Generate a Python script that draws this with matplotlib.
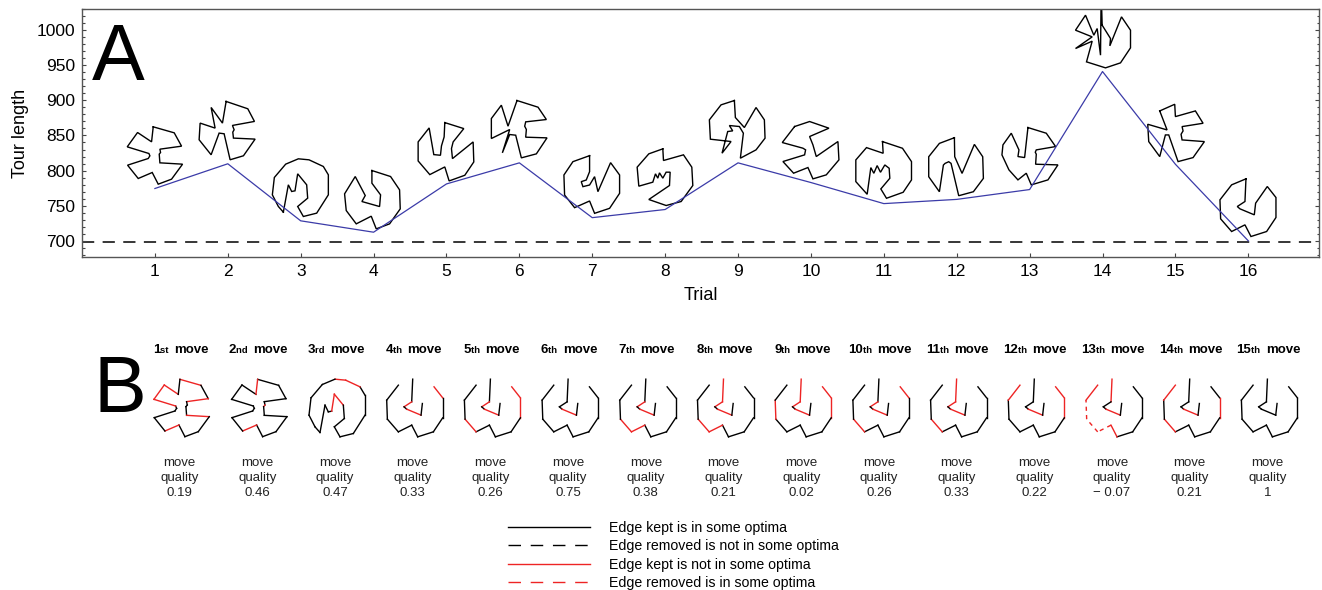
import numpy as np
import matplotlib
matplotlib.use("Agg")
import matplotlib.pyplot as plt
from matplotlib import transforms as mtrans
from matplotlib.lines import Line2D
from matplotlib.ticker import MultipleLocator, NullLocator
from matplotlib.offsetbox import TextArea, HPacker, AnnotationBbox

plt.rcParams['font.family'] = ['Liberation Sans', 'DejaVu Sans']

# ---------------- data ----------------
trials = list(range(1, 17))
tour_length = [774.5, 809.7, 728.5, 712.3, 781, 811, 733, 744.6, 811, 783,
               753, 759, 773, 941, 809, 700]
optimum = 699

move_numbers = list(range(1, 16))
move_suffix = ['st', 'nd', 'rd'] + ['th'] * 12
move_quality = [0.19, 0.46, 0.47, 0.33, 0.26, 0.75, 0.38, 0.21, 0.02, 0.26,
                0.33, 0.22, -0.07, 0.21, 1]

legend_labels = ["Edge kept is in some optima",
                 "Edge removed is not in some optima",
                 "Edge kept is not in some optima",
                 "Edge removed is in some optima"]

# tour drawings (traced shapes, 3x pixel units) and their anchor point
tour_1 = [(115,95),(178,113),(200,153),(135,162),(137,172),(133,177),(135,203),(203,207),(170,252),(130,267),(112,232),(70,250),(38,210),(100,190),(105,182),(102,175),(37,155),(68,112),(110,140),(115,95)]
tour_2 = [(333,20),(398,42),(418,80),(352,92),(357,105),(353,112),(355,130),(420,133),(385,183),(345,195),(327,117),(312,115),(288,180),(252,135),(255,85),(300,100),(288,38),(322,85),(333,20)]
tour_3 = [(505,352),(520,270),(530,290),(540,288),(548,237),(575,270),(578,310),(548,335),(565,365),(605,355),(640,300),(640,240),(625,215),(582,195),(550,192),(512,208),(478,248),(472,300),(490,335),(505,352)]
tour_4 = [(772,225),(828,243),(855,283),(857,340),(825,385),(785,400),(770,362),(725,385),(695,345),(690,295),(722,243),(752,300),(742,318),(795,333),(798,298),(772,263),(772,225)]
tour_5 = [(105,82),(162,100),(130,140),(125,160),(128,190),(190,140),(192,200),(165,240),(118,257),(105,215),(60,238),(25,197),(25,140),(58,98),(72,178),(92,180),(95,152),(103,125),(105,82)]
tour_6 = [(322,18),(385,38),(410,75),(348,82),(345,95),(350,105),(348,128),(412,130),(380,178),(335,190),(318,122),(300,120),(278,175),(300,105),(245,132),(245,72),(275,32),(295,95),(322,18)]
tour_7 = [(540,182),(540,230),(530,255),(515,260),(520,275),(540,270),(555,245),(565,290),(603,203),(630,240),(630,295),(600,340),(555,355),(540,318),(495,338),(465,300),(463,240),(490,200),(540,182)]
tour_8 = [(760,160),(762,195),(822,178),(847,215),(850,270),(815,318),(770,330),(718,312),(780,270),(782,230),(770,230),(760,248),(750,232),(745,248),(738,235),(730,260),(688,272),(683,215),(718,175),(760,160)]
tour_9 = [(975,17),(978,68),(1005,98),(1040,38),(1065,75),(1067,130),(1040,165),(993,190),(1002,115),(990,95),(960,92),(970,108),(955,110),(938,175),(965,140),(903,133),(900,75),(935,30),(975,17)]
tour_10 = [(75,95),(120,80),(178,100),(120,125),(130,150),(140,185),(205,140),(208,195),(170,240),(130,252),(115,218),(72,235),(40,200),(105,180),(108,165),(100,160),(38,143),(75,95)]
tour_11 = [(338,140),(340,175),(290,158),(258,195),(258,260),(292,298),(303,218),(312,235),(322,212),(332,232),(345,210),(358,220),(360,250),(333,282),(350,310),(400,292),(425,255),(425,200),(398,160),(338,140)]
tour_12 = [(555,128),(556,185),(578,235),(615,148),(640,185),(642,250),(612,290),(568,302),(545,205),(538,200),(527,205),(522,210),(510,290),(478,245),(478,185),(510,145),(555,128)]
tour_13 = [(775,98),(830,115),(858,155),(800,165),(797,172),(800,178),(798,208),(865,210),(835,255),(785,270),(770,235),(745,255),(718,225),(697,180),(700,150),(725,115),(748,165),(745,185),(765,188),(775,98)]
tour_14 = [(125,60),(150,100),(148,122),(183,35),(210,75),(210,128),(180,173),(135,188),(78,170),(95,108),(45,130),(95,95),(45,75),(75,30),(100,90),(110,70),(120,150),(122,-40),(125,60)]
tour_15 = [(298,318),(343,298),(345,335),(405,318),(428,355),(365,365),(368,378),(362,388),(365,405),(432,410),(398,458),(353,470),(325,390),(315,390),(298,455),(265,410),(262,358),(320,375),(298,318)]
tour_16 = [(558,522),(555,590),(532,605),(540,612),(583,630),(587,595),(622,545),(648,578),(648,638),(620,680),(573,695),(555,660),(515,680),(482,642),(480,585),(515,540),(558,522)]
trial_tours = [tour_1, tour_2, tour_3, tour_4, tour_5, tour_6, tour_7, tour_8,
               tour_9, tour_10, tour_11, tour_12, tour_13, tour_14, tour_15, tour_16]
tour_anchor = [(120,280),(338,207),(557,378),(777,410),(110,266),(329,205),(548,368),(767,342),
               (986,204),(124,263),(342,326),(562,313),(780,284),(126,199),(345,478),(565,708)]

# panel B: which tour drawing each move uses, and edge categories
move_shape = [1, 1, 3] + [16] * 12
move_red = [[0, 2, 6, 10, 15, 16, 17], [4, 10, 18], [3, 4, 12, 13], [1, 3, 6], [1, 3, 6, 7, 12],
            [3], [1, 3, 11, 12], [0, 1, 3, 11, 12], [0, 1, 3, 6, 7, 13], [1, 3, 6, 12],
            [0, 1, 3, 12], [3, 6, 7, 14], [0, 3, 10, 14], [3, 7, 12, 14], []]
move_red_dashed = [[], [], [], [], [], [], [], [], [], [], [], [], [11, 12, 13], [], []]
move_gap = [[], [], [], [5, 15], [5, 15], [5, 15], [5, 15], [5, 15], [5, 15], [5, 15],
            [5, 15], [5, 15], [5, 15], [5, 15], [5, 15]]

RED = '#ee2424'

# ---------------- figure ----------------
W, H = 1322, 590
fig = plt.figure(figsize=(W / 100, H / 100), dpi=100)

L, R, T, B = 82, 1319, 9, 257
ax = fig.add_axes([L / W, 1 - B / H, (R - L) / W, (B - T) / H])

ax.axhline(optimum, color='black', lw=1.1, ls=(0, (8, 5.5)), zorder=1)


def shape_transform(axis, x, y, anchor):
    return (mtrans.Affine2D().translate(-anchor[0], -anchor[1]).scale(1 / 3, -1 / 3)
            + mtrans.ScaledTranslation(x, y, axis.transData))


for t, v, pts, anc in zip(trials, tour_length, trial_tours, tour_anchor):
    p = np.array(pts, dtype=float)
    ax.plot(p[:, 0], p[:, 1], color='black', lw=1.0, zorder=2,
            transform=shape_transform(ax, t, v, anc), solid_joinstyle='miter')

ax.plot(trials, tour_length, color='#3b3ba8', lw=0.9, zorder=3)

ax.set_xlim(0, 16.97)
ax.set_ylim(677, 1030)
ax.set_xticks(trials)
ax.set_yticks(np.arange(700, 1001, 50))
ax.yaxis.set_minor_locator(MultipleLocator(10))
ax.xaxis.set_minor_locator(NullLocator())
ax.tick_params(which='both', direction='in', right=True, top=False, colors='#444444',
               labelcolor='black', labelsize=12.5, width=0.8)
ax.tick_params(which='major', length=3.2, pad=5)
ax.tick_params(which='minor', length=1.8)
for s in ax.spines.values():
    s.set_color('#555555')
    s.set_linewidth(1.0)
ax.set_xlabel('Trial', fontsize=13, labelpad=6)
ax.set_ylabel('Tour length', fontsize=13, labelpad=5)

fig.text(92 / W, 1 - 80 / H, 'A', fontsize=57, va='baseline', ha='left')
fig.text(94 / W, 1 - 412 / H, 'B', fontsize=57, va='baseline', ha='left')

# ---------------- panel B ----------------
axb = fig.add_axes([0, 0, 1, 1], zorder=-1)
axb.set_xlim(0, W)
axb.set_ylim(H, 0)
axb.axis('off')

col0, dcol = 179.6, 77.7
for i, m in enumerate(move_numbers):
    cx = col0 + i * dcol
    # title
    title = HPacker(children=[
        TextArea(str(m), textprops=dict(fontsize=9.5, fontweight='bold')),
        TextArea(move_suffix[i] + '  ', textprops=dict(fontsize=6.8, fontweight='bold')),
        TextArea('move', textprops=dict(fontsize=9.5, fontweight='bold'))],
        align='baseline', pad=0, sep=0)
    axb.add_artist(AnnotationBbox(title, (cx + 1, 350), frameon=False,
                                  box_alignment=(0.5, 0.5), pad=0))
    # tour drawing
    pts = np.array(trial_tours[move_shape[i] - 1], dtype=float)
    c = ((pts[:, 0].min() + pts[:, 0].max()) / 2, (pts[:, 1].min() + pts[:, 1].max()) / 2)
    tr = shape_transform(axb, cx + 2, 408, c)
    for e in range(len(pts) - 1):
        if e in move_gap[i]:
            continue
        seg = pts[e:e + 2]
        if e in move_red_dashed[i]:
            axb.plot(seg[:, 0], seg[:, 1], color=RED, lw=1.0, ls=(0, (3, 3)), transform=tr)
        elif e in move_red[i]:
            axb.plot(seg[:, 0], seg[:, 1], color=RED, lw=1.0, transform=tr)
        else:
            axb.plot(seg[:, 0], seg[:, 1], color='black', lw=1.0, transform=tr)
    q = move_quality[i]
    qs = '1' if q == 1 else ('\u2212 %.2f' % abs(q) if q < 0 else '%.2f' % q)
    for yy, s in zip((463.5, 478.5, 493.5), ('move', 'quality', qs)):
        axb.text(cx, yy, s, fontsize=9.5, ha='center', va='center', color='#222222')

handles = [Line2D([], [], color='black', lw=1.0),
           Line2D([], [], color='black', lw=1.0, ls=(0, (9, 7))),
           Line2D([], [], color=RED, lw=1.0),
           Line2D([], [], color=RED, lw=1.0, ls=(0, (9, 7)))]
fig.legend(handles, legend_labels, loc='upper left',
           bbox_to_anchor=(508 / W, 1 - 521 / H), frameon=False, fontsize=10.2,
           handlelength=5.8, handletextpad=1.3, labelspacing=0.3, borderpad=0,
           borderaxespad=0)

fig.savefig('out.png', dpi=100)
